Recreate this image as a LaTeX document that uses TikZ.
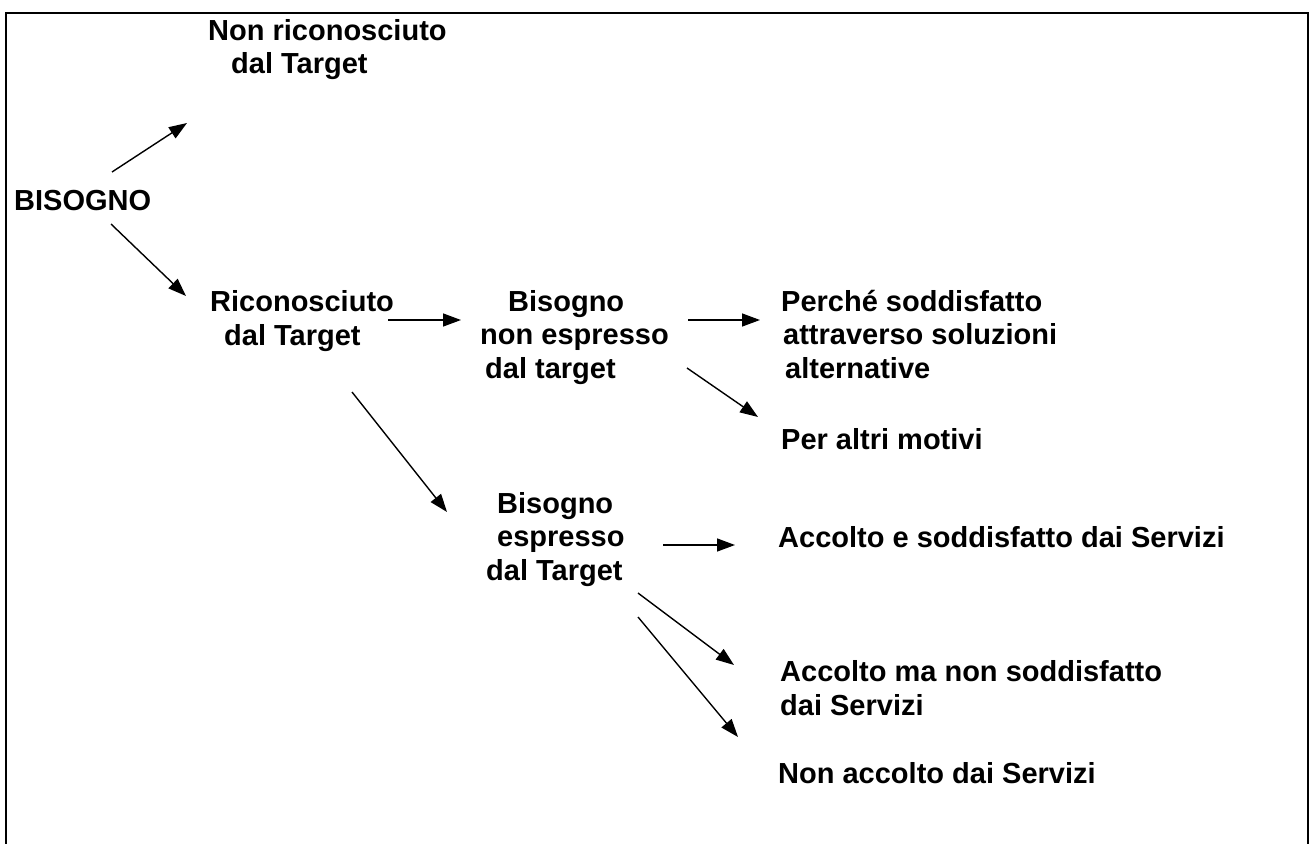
\documentclass[tikz,border=0pt]{standalone}
\usepackage{fontspec}
\setmainfont{Liberation Sans}
\usetikzlibrary{arrows.meta}

\begin{document}
\begin{tikzpicture}[x=1pt, y=-1pt,
        lbl/.style={anchor=base west, inner sep=0pt, align=left,
            font=\fontsize{29}{33.5}\selectfont\bfseries},
        arr/.style={line width=1.4pt, -{Triangle[length=18pt,width=13pt]}}]
        \useasboundingbox (0,0) rectangle (1311,843);
        \draw[line width=2pt] (6,850) -- (6,13) -- (1308,13) -- (1308,850);

        % labels (placed at the baseline of their last line)
        \node[lbl] (bisogno) at (14,210) {BISOGNO};
        \node[lbl] (nonric) at (208,74) {Non riconosciuto\\\hspace*{23pt}dal Target};
        \node[lbl] (ricon) at (210,345) {Riconosciuto\\\hspace*{14pt}dal Target};
        \node[lbl] (nonespr) at (480,378) {\hspace*{28pt}Bisogno\\non espresso\\\hspace*{5pt}dal target};
        \node[lbl] (soluz) at (781,378) {Perché soddisfatto\\\hspace*{2pt}attraverso soluzioni\\\hspace*{4pt}alternative};
        \node[lbl] (altri) at (781,449) {Per altri motivi};
        \node[lbl] (espr) at (486,580) {\hspace*{11pt}Bisogno\\\hspace*{11pt}espresso\\dal Target};
        \node[lbl] (accsodd) at (778,547) {Accolto e soddisfatto dai Servizi};
        \node[lbl] (accnon) at (780,715) {Accolto ma non soddisfatto\\dai Servizi};
        \node[lbl] (nonacc) at (778,783) {Non accolto dai Servizi};

        % arrow ends
        \coordinate (bis-a) at (112,172);  \coordinate (nonric-in) at (187,123);
        \coordinate (bis-b) at (111,224);  \coordinate (ricon-in) at (186,296);
        \coordinate (ricon-a) at (388,320); \coordinate (nonespr-in) at (461,320);
        \coordinate (ricon-b) at (352,392); \coordinate (espr-in) at (447,512);
        \coordinate (nonespr-a) at (688,320); \coordinate (soluz-in) at (760,320);
        \coordinate (nonespr-b) at (687,368); \coordinate (altri-in) at (758,417);
        \coordinate (espr-a) at (663,545); \coordinate (accsodd-in) at (735,545);
        \coordinate (espr-b) at (638,593); \coordinate (accnon-in) at (734,665);
        \coordinate (espr-c) at (638,617); \coordinate (nonacc-in) at (738,737);

        \draw[arr] (bis-a) -- (nonric-in);
        \draw[arr] (bis-b) -- (ricon-in);
        \draw[arr] (ricon-a) -- (nonespr-in);
        \draw[arr] (ricon-b) -- (espr-in);
        \draw[arr] (nonespr-a) -- (soluz-in);
        \draw[arr] (nonespr-b) -- (altri-in);
        \draw[arr] (espr-a) -- (accsodd-in);
        \draw[arr] (espr-b) -- (accnon-in);
        \draw[arr] (espr-c) -- (nonacc-in);
    \end{tikzpicture}
\end{document}
